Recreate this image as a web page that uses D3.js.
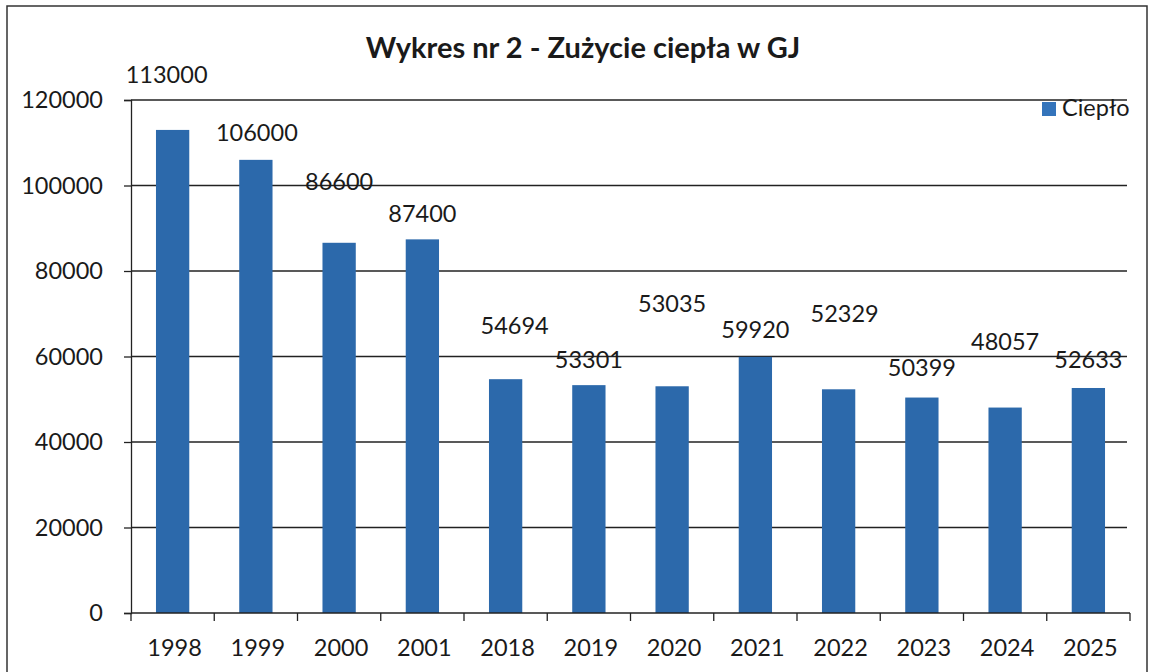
<!DOCTYPE html>
<html><head><meta charset="utf-8">
<script src="https://cdn.jsdelivr.net/npm/d3@7"></script>
<style>
html,body{margin:0;padding:0;background:#fff;}
svg{display:block;}
text{font-family:Lato,"Open Sans",sans-serif;fill:#1a1a1a;}
</style></head>
<body>
<svg id="chart" width="1151" height="672"></svg>
<script>
const categories = ["1998","1999","2000","2001","2018","2019","2020","2021","2022","2023","2024","2025"];
const values = [113000,106000,86600,87400,54694,53301,53035,59920,52329,50399,48057,52633];
const yTicks = [0,20000,40000,60000,80000,100000,120000];
const seriesName = "Ciepło";
const title = "Wykres nr 2 - Zużycie ciepła w GJ";
// data-label placement offsets (px) as in the original (Excel-moved labels)
const labelDx = [-6,1,0,0,9,0,0,0,6,0,0,0];
const labelDy = [-55,-27,-61,-26,-54,-26,-83,-27,-76,-30,-66,-28];

const svg = d3.select("#chart");
const mLeft = 131, mRight = 1130, mTop = 100, mBottom = 613;
const fs = 23.5;

const x = d3.scaleBand().domain(categories).range([mLeft, mRight]).paddingInner(0.6).paddingOuter(0.3);
const y = d3.scaleLinear().domain([0,120000]).range([mBottom, mTop]);

// outer frame
svg.append("path").attr("d", `M7,672 L7,6 L1147,6 L1147,672`)
  .attr("fill","none").attr("stroke","#333").attr("stroke-width",1.5);

// title
svg.append("text").attr("x", 583).attr("y", 58).attr("text-anchor","middle")
  .attr("font-size", 29).attr("font-weight", 700).text(title);

// gridlines
svg.append("g").selectAll("line").data(yTicks.filter(d=>d>0)).join("line")
  .attr("x1", mLeft).attr("x2", 1127)
  .attr("y1", d=>y(d)).attr("y2", d=>y(d))
  .attr("stroke","#222").attr("stroke-width",1.3);

// y axis
const yAxis = d3.axisLeft(y).tickValues(yTicks).tickSize(7).tickPadding(21).tickFormat(d3.format("d"));
const gy = svg.append("g").attr("transform",`translate(${mLeft},0)`).call(yAxis);
gy.select(".domain").attr("stroke","#222").attr("stroke-width",1.3);
gy.selectAll(".tick line").attr("stroke","#222").attr("stroke-width",1.3);
gy.selectAll(".tick text").attr("font-size",fs).attr("fill","#1a1a1a").style("font-family","Lato");

// bars
svg.append("g").selectAll("rect").data(values).join("rect")
  .attr("x",(d,i)=>x(categories[i]))
  .attr("width", x.bandwidth())
  .attr("y", d=>y(d))
  .attr("height", d=>y(0)-y(d))
  .attr("fill","#2c69ab");

// x axis
const boundaries = d3.range(categories.length+1).map(i=>mLeft + i*(mRight-mLeft)/categories.length);
svg.append("line").attr("x1",mLeft).attr("x2",mRight).attr("y1",mBottom).attr("y2",mBottom)
  .attr("stroke","#222").attr("stroke-width",1.3);
svg.append("g").selectAll("line").data(boundaries).join("line")
  .attr("x1",d=>d).attr("x2",d=>d).attr("y1",mBottom).attr("y2",mBottom+8)
  .attr("stroke","#222").attr("stroke-width",1.3);
svg.append("g").selectAll("text").data(categories).join("text")
  .attr("x", d=>x(d)+x.bandwidth()/2+2)
  .attr("y", 656)
  .attr("text-anchor","middle").attr("font-size",fs).text(d=>d);

// data labels
svg.append("g").selectAll("text").data(values).join("text")
  .attr("x",(d,i)=>x(categories[i])+x.bandwidth()/2+labelDx[i])
  .attr("y",(d,i)=>y(d)+labelDy[i])
  .attr("dy","0.36em")
  .attr("text-anchor","middle").attr("font-size",fs).text(d=>d);

// legend
svg.append("rect").attr("x",1042).attr("y",102).attr("width",14).attr("height",14).attr("fill","#3474bb");
svg.append("text").attr("x",1062).attr("y",116).attr("font-size",fs).text(seriesName);
</script>
</body></html>
